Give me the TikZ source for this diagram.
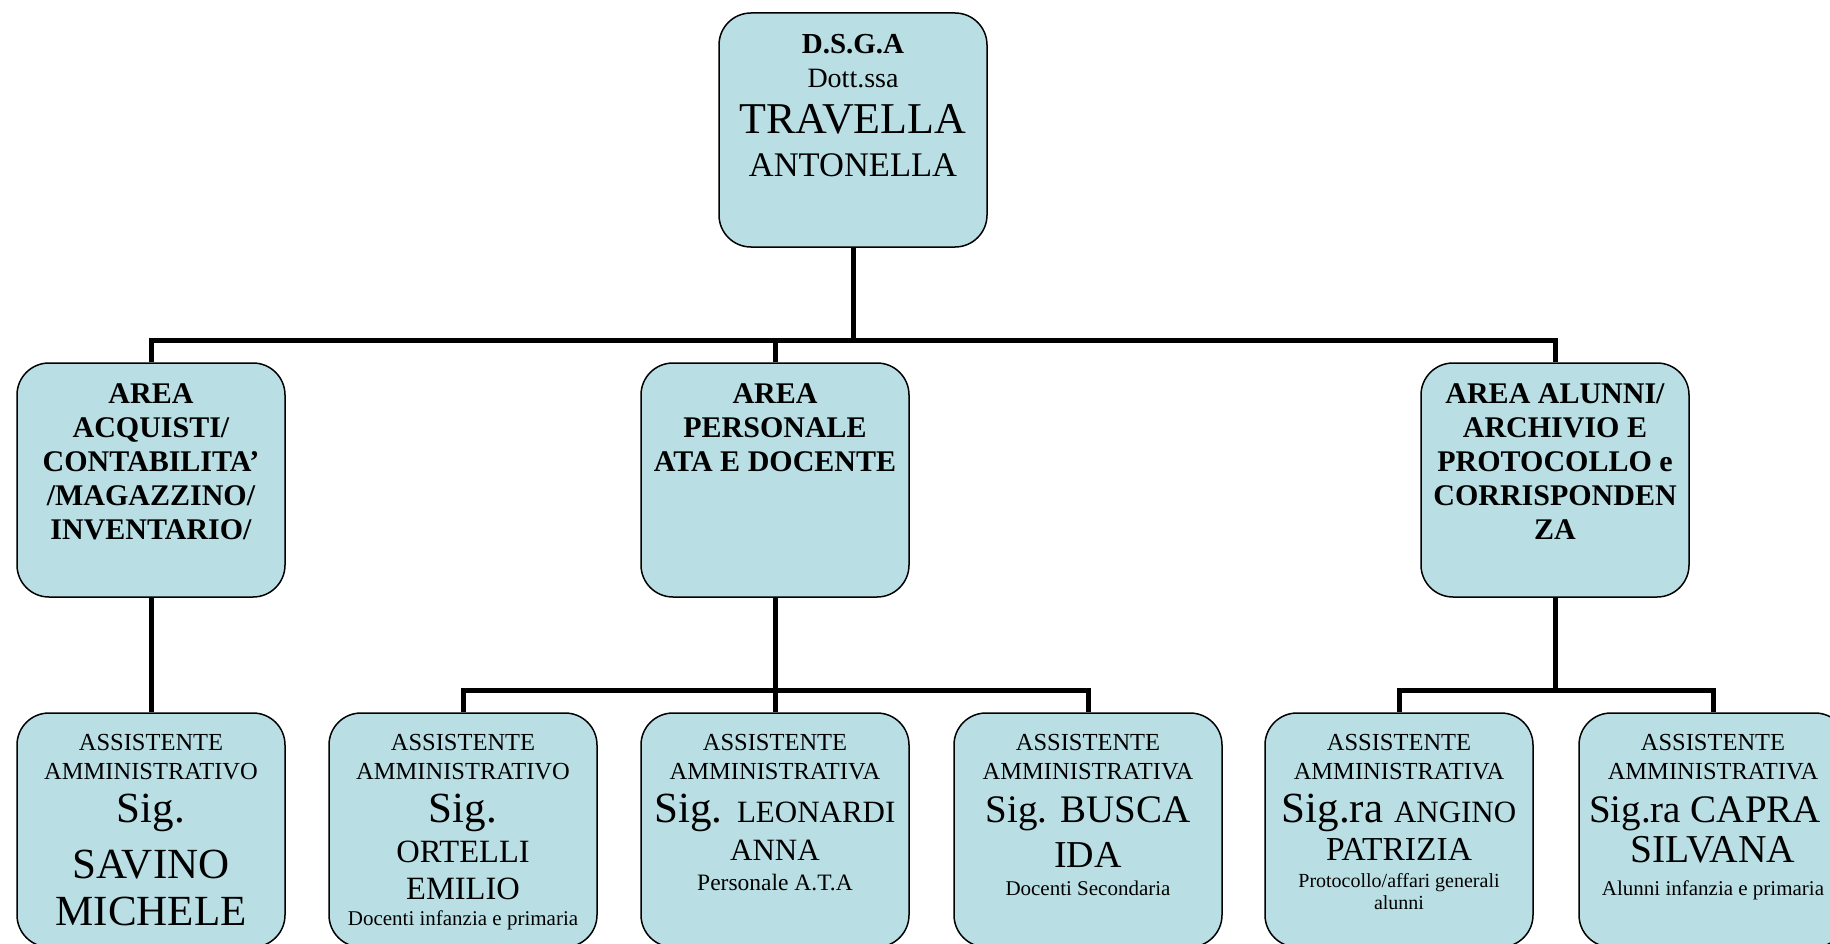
\documentclass[tikz,border=0pt]{standalone}
\usepackage{fontspec}
\setmainfont{Liberation Serif}
\usetikzlibrary{backgrounds}

\definecolor{boxfill}{RGB}{185,223,229}

% testo allineato in alto nella cartella
\newcommand{\cartella}[1]{\parbox[c][234pt][t]{262pt}{\centering #1}}
\newcommand{\prima}[3]{{\fontsize{#1pt}{#1pt}\selectfont\rule{0pt}{#2pt}#3\par}}
\newcommand{\riga}[3]{{\fontsize{#1pt}{#2pt}\selectfont #3\par}}
\newcommand{\nome}[2]{{\fontsize{#1pt}{#1pt}\selectfont #2}}

\begin{document}
\begin{tikzpicture}[x=1pt, y=-1pt,
    ufficio/.style ={rectangle, draw, line width=1.5pt, fill=boxfill, rounded corners=32pt,
                     inner sep=0pt, minimum width=268pt, minimum height=234pt},
    linea/.style ={line width=5pt}]
   \useasboundingbox (0,0) rectangle (1830,944);
   \clip (0,0) rectangle (1830,944);

   \node[ufficio] (dsga) at (853,130) {\cartella{%
      \prima{29}{41}{\bfseries D.S.G.A}
      \riga{28}{33.5}{Dott.ssa}
      \riga{44}{46.5}{TRAVELLA}
      \riga{34.5}{42.5}{ANTONELLA}}};

   \node[ufficio] (acq) at (151,480) {\cartella{\bfseries
      \prima{30}{40}{AREA}
      \riga{30}{34}{ACQUISTI/}
      \riga{30}{34}{CONTABILITA’}
      \riga{30}{34}{/MAGAZZINO/}
      \riga{30}{34}{INVENTARIO/}}};
   \node[ufficio] (ata) at (775,480) {\cartella{\bfseries
      \prima{30}{40}{AREA}
      \riga{30}{34}{PERSONALE}
      \riga{30}{34}{ATA E DOCENTE}}};
   \node[ufficio] (alu) at (1555,480) {\cartella{\bfseries
      \prima{30}{40}{AREA ALUNNI/}
      \riga{30}{34}{ARCHIVIO E}
      \riga{30}{34}{PROTOCOLLO e}
      \riga{30}{34}{CORRISPONDEN}
      \riga{30}{34}{ZA}}};

   \node[ufficio] (savino) at (151,830) {\cartella{%
      \prima{24.5}{37}{ASSISTENTE}
      \riga{24.5}{29.5}{AMMINISTRATIVO}
      \riga{43}{43}{Sig.}
      \riga{43}{56}{SAVINO}
      \riga{43}{47}{MICHELE}}};
   \node[ufficio] (ortelli) at (463,830) {\cartella{%
      \prima{24.5}{37}{ASSISTENTE}
      \riga{24.5}{29.5}{AMMINISTRATIVO}
      \riga{43}{43}{Sig.}
      \riga{32.5}{40}{ORTELLI}
      \riga{32.5}{37}{EMILIO}
      \riga{21}{26}{Docenti infanzia e primaria}}};
   \node[ufficio] (leonardi) at (775,830) {\cartella{%
      \prima{24.5}{37}{ASSISTENTE}
      \riga{24.5}{29.5}{AMMINISTRATIVA}
      \riga{43}{43}{Sig. \nome{31}{LEONARDI}}
      \riga{31}{38}{ANNA}
      \riga{23.5}{30}{Personale A.T.A}}};
   \node[ufficio] (busca) at (1088,830) {\cartella{%
      \prima{24.5}{37}{ASSISTENTE}
      \riga{24.5}{29.5}{AMMINISTRATIVA}
      \riga{39}{43}{Sig. BUSCA}
      \riga{38}{45}{IDA}
      \riga{21}{28}{Docenti Secondaria}}};
   \node[ufficio] (angino) at (1399,830) {\cartella{%
      \prima{24.5}{37}{ASSISTENTE}
      \riga{24.5}{29.5}{AMMINISTRATIVA}
      \riga{43}{43}{Sig.ra \nome{31}{ANGINO}}
      \riga{33.5}{38}{PATRIZIA}
      \riga{20}{27}{Protocollo/affari generali}
      \riga{20}{22}{alunni}}};
   \node[ufficio] (capra) at (1713,830) {\cartella{%
      \prima{24.5}{37}{ASSISTENTE}
      \riga{24.5}{29.5}{AMMINISTRATIVA}
      \riga{39}{43}{\hspace*{-16pt}Sig.ra CAPRA}
      \riga{39.5}{40}{SILVANA}
      \riga{21}{33}{Alunni infanzia e primaria}}};

   \coordinate (bus) at (853,340);
   \coordinate (busata) at (775,690);
   \coordinate (busalu) at (1555,690);

   \begin{scope}[on background layer]
   \draw[linea] (dsga.south) -- (bus);
   \draw[linea] (acq.north) |- (bus) -| (alu.north);
   \draw[linea] (ata.north) -- (ata.north |- bus);

   \draw[linea] (acq.south) -- (savino.north);
   \draw[linea] (ata.south) -- (leonardi.north);
   \draw[linea] (ortelli.north) |- (busata) -| (busca.north);
   \draw[linea] (alu.south) -- (busalu);
   \draw[linea] (angino.north) |- (busalu) -| (capra.north);
   \end{scope}
\end{tikzpicture}
\end{document}
